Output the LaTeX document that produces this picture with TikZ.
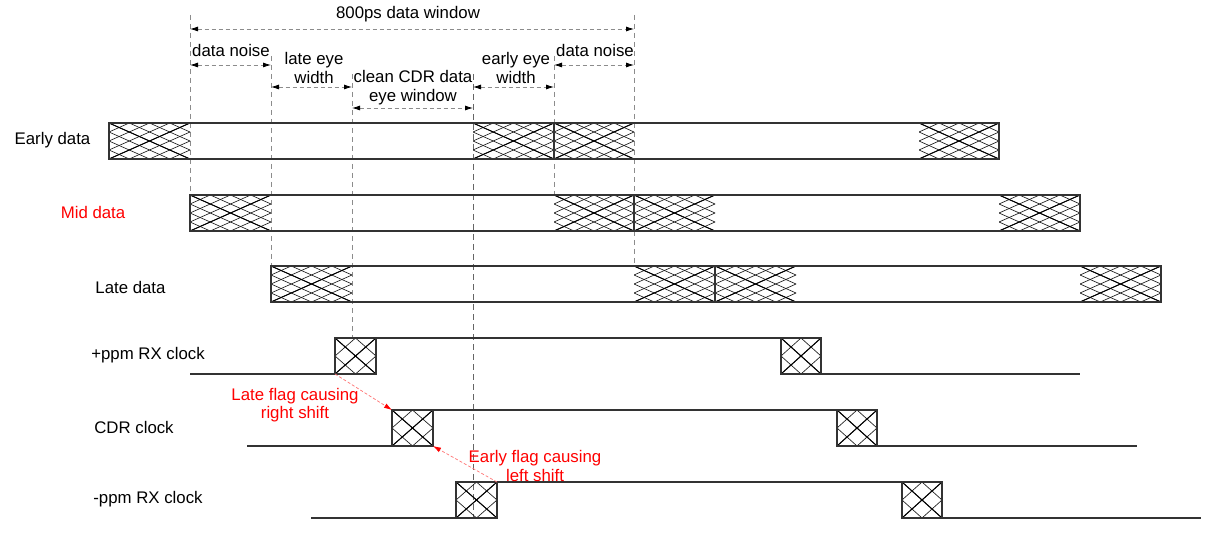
\documentclass[tikz,border=0pt]{standalone}
\usepackage{fontspec}
\setmainfont{Liberation Sans}
\usetikzlibrary{arrows.meta,calc}
\definecolor{flagred}{RGB}{255,0,0}
\newcommand{\hatchbox}[5]{%
  \begin{scope}
    \clip (#1,#2) rectangle (#3,#4);
    \foreach \k in {-#5,...,#5}{%
      \pgfmathsetmacro\dd{\k*(#3-#1)/#5}
      \draw[hatchthin] (#1+\dd,#2) -- (#3+\dd,#4);
      \draw[hatchthin] (#1+\dd,#4) -- (#3+\dd,#2);
    }
    \draw[hatchthick] (#1,#2) -- (#3,#4) (#1,#4) -- (#3,#2);
  \end{scope}}
\tikzset{
  lbl/.style={font=\fontsize{16.8}{18.5}\selectfont, inner sep=0pt, align=center},
  redlbl/.style={lbl, text=flagred},
  grid/.style={draw=black!45, line width=0.8pt, dash pattern=on 5pt off 4pt},
  gridd/.style={draw=black!60, line width=1pt, dash pattern=on 6pt off 4pt},
  dim/.style={draw=black!45, line width=0.8pt, dash pattern=on 4pt off 3pt,
    {Latex[length=8pt,width=5pt,black]}-{Latex[length=8pt,width=5pt,black]}},
  wave/.style={draw=black!80, line width=1.2pt},
  hatchthin/.style={draw=black!90, line width=0.65pt},
  hatchthick/.style={draw=black, line width=1pt},
  flag/.style={draw=flagred!55, line width=0.7pt, dash pattern=on 3pt off 2pt,
    -{Latex[length=8pt,width=5pt,flagred]}},
}
\begin{document}
\begin{tikzpicture}[x=1pt,y=-1pt]
\useasboundingbox[fill=white] (0,0) rectangle (1217,537);

% vertical reference lines
\draw[grid] (190,15) -- (190,195);
\draw[grid] (634,15) -- (634,266);
\draw[grid] (271,56) -- (271,266);
\draw[grid] (554,56) -- (554,195);
\draw[grid] (352,74) -- (352,338);
\draw[gridd] (473,74) -- (473,518);

% coordinates for dimension arrows
\coordinate (wl) at (190,29);  \coordinate (wr) at (634,29);
\coordinate (n1l) at (190,65); \coordinate (n1r) at (271,65);
\coordinate (lel) at (271,87); \coordinate (ler) at (352,87);
\coordinate (cl) at (352,108); \coordinate (cr) at (473,108);
\coordinate (eel) at (473,87); \coordinate (eer) at (554,87);
\coordinate (n2l) at (554,65); \coordinate (n2r) at (634,65);
\draw[dim] (wl) -- (wr);
\draw[dim] (n1l) -- (n1r);
\draw[dim] (lel) -- (ler);
\draw[dim] (cl) -- (cr);
\draw[dim] (eel) -- (eer);
\draw[dim] (n2l) -- (n2r);

\node[lbl] (tw) at (408,14) {800ps data window};
\node[lbl] (tn1) at (231,50) {data noise};
\node[lbl] (tle) at (314,68) {late eye\\width};
\node[lbl] (tc) at (413,87.5) {clean CDR data\\eye window};
\node[lbl] (tee) at (516,68) {early eye\\width};
\node[lbl] (tn2) at (595,50) {data noise};

% row labels
\node[lbl] (le) at (52.5,140) {Early data};
\node[redlbl] (lm) at (93,212) {Mid data};
\node[lbl] (ll) at (130.5,287) {Late data};
\node[lbl] (lp) at (148,355) {+ppm RX clock};
\node[lbl] (lcdr) at (134,427) {CDR clock};
\node[lbl] (lmn) at (148,499) {-ppm RX clock};

% Early data
\hatchbox{109}{123}{190}{159}{4}
\hatchbox{473}{123}{554}{159}{4}
\hatchbox{554}{123}{634}{159}{4}
\hatchbox{919}{123}{999}{159}{4}
\draw[wave] (109,123) rectangle (999,159);
\draw[wave] (554,123) -- (554,159);

% Mid data
\hatchbox{190}{195}{271}{231}{4}
\hatchbox{554}{195}{634}{231}{4}
\hatchbox{634}{195}{715}{231}{4}
\hatchbox{999}{195}{1080}{231}{4}
\draw[wave] (190,195) rectangle (1080,231);
\draw[wave] (634,195) -- (634,231);

% Late data
\hatchbox{271}{266}{352}{302}{4}
\hatchbox{634}{266}{715}{302}{4}
\hatchbox{715}{266}{796}{302}{4}
\hatchbox{1080}{266}{1161}{302}{4}
\draw[wave] (271,266) rectangle (1161,302);
\draw[wave] (715,266) -- (715,302);

% +ppm RX clock
\hatchbox{335}{338}{376}{374}{2}
\hatchbox{781}{338}{821}{374}{2}
\coordinate (pA) at (335,374); \coordinate (pB) at (376,338);
\draw[wave] (190,374) -- (pA) (335,338) rectangle (376,374) (pB) -- (781,338)
  (781,338) rectangle (821,374) (821,374) -- (1080,374);

% CDR clock
\hatchbox{392}{410}{433}{446}{2}
\hatchbox{837}{410}{877}{446}{2}
\coordinate (cA) at (392,410); \coordinate (cB) at (433,446);
\draw[wave] (247,446) -- (392,446) (392,410) rectangle (433,446) (433,410) -- (837,410)
  (837,410) rectangle (877,446) (877,446) -- (1137,446);

% -ppm RX clock
\hatchbox{456}{482}{497}{518}{2}
\hatchbox{902}{482}{942}{518}{2}
\coordinate (mA) at (497,482);
\draw[wave] (311,518) -- (456,518) (456,482) rectangle (497,518) (497,482) -- (902,482)
  (902,482) rectangle (942,518) (942,518) -- (1201,518);

% flags
\draw[flag] (pA) -- (cA);
\draw[flag] (mA) -- (cB);
\node[redlbl] (fl) at (295,405) {Late flag causing\\right shift};
\node[redlbl] (fe) at (535,466) {Early flag causing\\left shift};
\end{tikzpicture}
\end{document}
